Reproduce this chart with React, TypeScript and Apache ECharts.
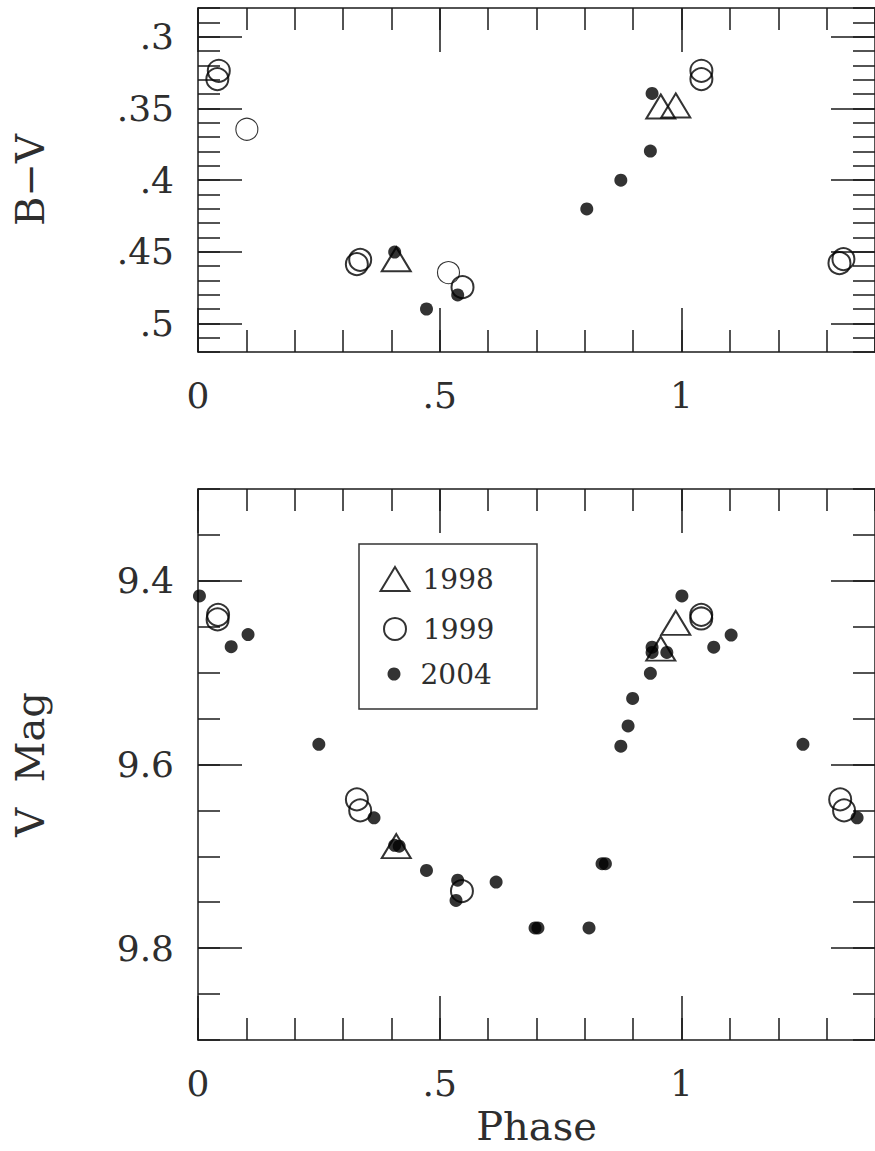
import React, { useEffect, useRef } from "react";
import * as echarts from "echarts";

// ---- Data ----
// Top panel: B-V colour vs phase
const bvPhase1998 = [0.41, 0.957, 0.988];
const bvValue1998 = [0.4553, 0.3487, 0.348];

const bvPhase1999 = [0.043, 0.04, 0.3285, 0.3354, 0.547, 1.041, 1.041, 1.3265, 1.3347];
const bvValue1999 = [0.3238, 0.3296, 0.4587, 0.4557, 0.4748, 0.3238, 0.3296, 0.458, 0.4552];

const bvPhase1999Thin = [0.101, 0.518];
const bvValue1999Thin = [0.3646, 0.4646];

const bvPhase2004 = [0.4067, 0.4725, 0.537, 0.804, 0.8744, 0.9355, 0.939];
const bvValue2004 = [0.4503, 0.49, 0.4802, 0.4202, 0.4001, 0.3798, 0.3396];

// Bottom panel: V magnitude vs phase
const vPhase1998 = [0.41, 0.957, 0.988];
const vValue1998 = [9.6888, 9.4738, 9.4458];

const vPhase1999 = [0.0415, 0.0405, 0.3286, 0.3354, 0.5458, 1.0407, 1.0407, 1.328, 1.336];
const vValue1999 = [9.437, 9.442, 9.638, 9.65, 9.7378, 9.437, 9.441, 9.638, 9.65];

const vPhase2004 = [
  0.003, 0.0686, 0.1035, 0.2499, 0.364, 0.4067, 0.4161, 0.4725, 0.537, 0.5336,
  0.6165, 0.697, 0.703, 0.8086, 0.8355, 0.8425, 0.8744, 0.8894, 0.8988, 0.9355,
  0.939, 0.939, 0.9695, 1.0007, 1.0665, 1.1025, 1.251, 1.363,
];
const vValue2004 = [
  9.4164, 9.4717, 9.4585, 9.578, 9.658, 9.688, 9.689, 9.7153, 9.726, 9.748,
  9.728, 9.778, 9.778, 9.778, 9.708, 9.708, 9.58, 9.558, 9.528, 9.5007,
  9.4723, 9.478, 9.478, 9.4164, 9.4723, 9.459, 9.578, 9.658,
];

// Axis ranges and ticks
const phaseMin = 0;
const phaseMax = 1.4;
const phaseMajorTicks = [0, 0.5, 1];
const phaseMinorStep = 0.1;

const bvMin = 0.28;
const bvMax = 0.52;
const bvMajorTicks = [0.3, 0.35, 0.4, 0.45, 0.5];
const bvMinorStep = 0.01;

const vMin = 9.3;
const vMax = 9.9;
const vMajorTicks = [9.4, 9.6, 9.8];
const vMinorStep = 0.05;

const seriesNames = ["1998", "1999", "2004"];

const FONT = '"DejaVu Serif", "Liberation Serif", serif';
const INK = "#1a1a1a";
const TEXT = "#2e2e2e";

const zip = (xs: number[], ys: number[]) => xs.map((x, i) => [x, ys[i]]);

const fmtPhase = (v: number) => (v === 0 ? "0" : String(v).replace(/^0\./, "."));
const fmtBV = (v: number) => String(v).replace(/^0\./, ".");
const fmtV = (v: number) => v.toFixed(1);

export default function App() {
  const ref = useRef<HTMLDivElement>(null);

  useEffect(() => {
    if (!ref.current) return;
    const chart = echarts.init(ref.current, undefined, { renderer: "svg" });

    const lineStyle = { color: INK, width: 1.5 };

    const xAxisFor = (gridIndex: number, position: string, major: boolean, withLabels: boolean, name?: string) => ({
      type: "value",
      gridIndex,
      position,
      min: phaseMin,
      max: phaseMax,
      ...(major ? {} : { interval: phaseMinorStep }),
      name: name || "",
      nameLocation: "middle",
      nameGap: 66,
      nameTextStyle: { fontFamily: FONT, fontSize: 40, color: TEXT },
      axisLine: { show: major, onZero: false, lineStyle },
      axisTick: {
        show: true,
        inside: true,
        length: major ? 44 : 22,
        lineStyle,
        ...(major ? { customValues: phaseMajorTicks } : {}),
      },
      axisLabel: major && withLabels
        ? { show: true, customValues: phaseMajorTicks, margin: 25, fontFamily: FONT, fontSize: 36, color: TEXT, formatter: fmtPhase }
        : { show: false },
      splitLine: { show: false },
    });

    const yAxisFor = (
      gridIndex: number,
      position: string,
      major: boolean,
      withLabels: boolean,
      min: number,
      max: number,
      majorTicks: number[],
      minorStep: number,
      fmt: (v: number) => string,
      name?: string
    ) => ({
      type: "value",
      gridIndex,
      position,
      inverse: true,
      min,
      max,
      ...(major ? {} : { interval: minorStep }),
      name: name || "",
      nameLocation: "middle",
      nameRotate: 90,
      nameGap: 148,
      nameTextStyle: { fontFamily: FONT, fontSize: 40, color: TEXT },
      axisLine: { show: major, onZero: false, lineStyle },
      axisTick: {
        show: true,
        inside: true,
        length: major ? 44 : 22,
        lineStyle,
        ...(major ? { customValues: majorTicks } : {}),
      },
      axisLabel: major && withLabels
        ? { show: true, customValues: majorTicks, margin: 24, fontFamily: FONT, fontSize: 36, color: TEXT, formatter: fmt }
        : { show: false },
      splitLine: { show: false },
    });

    const openStyle = { color: "rgba(0,0,0,0)", borderColor: "#000", borderWidth: 2 };
    const thinStyle = { color: "rgba(0,0,0,0)", borderColor: "#000", borderWidth: 1.1 };
    const dotStyle = { color: "#000" };

    const legendBase = {
      orient: "vertical",
      padding: 0,
      selectedMode: false,
      textStyle: { fontFamily: FONT, fontSize: 28, color: TEXT, lineHeight: 30 },
    };

    chart.setOption({
      animation: false,
      backgroundColor: "#fff",
      grid: [
        { left: 198, top: 8, width: 687, height: 344 },
        { left: 198, top: 489, width: 687, height: 551 },
      ],
      xAxis: [
        xAxisFor(0, "bottom", true, true),
        xAxisFor(0, "bottom", false, false),
        xAxisFor(0, "top", true, false),
        xAxisFor(0, "top", false, false),
        xAxisFor(1, "bottom", true, true, "Phase"),
        xAxisFor(1, "bottom", false, false),
        xAxisFor(1, "top", true, false),
        xAxisFor(1, "top", false, false),
      ],
      yAxis: [
        yAxisFor(0, "left", true, true, bvMin, bvMax, bvMajorTicks, bvMinorStep, fmtBV, "B\u2212V"),
        yAxisFor(0, "left", false, false, bvMin, bvMax, bvMajorTicks, bvMinorStep, fmtBV),
        yAxisFor(0, "right", true, false, bvMin, bvMax, bvMajorTicks, bvMinorStep, fmtBV),
        yAxisFor(0, "right", false, false, bvMin, bvMax, bvMajorTicks, bvMinorStep, fmtBV),
        yAxisFor(1, "left", true, true, vMin, vMax, vMajorTicks, vMinorStep, fmtV, "V  Mag"),
        yAxisFor(1, "left", false, false, vMin, vMax, vMajorTicks, vMinorStep, fmtV),
        yAxisFor(1, "right", true, false, vMin, vMax, vMajorTicks, vMinorStep, fmtV),
        yAxisFor(1, "right", false, false, vMin, vMax, vMajorTicks, vMinorStep, fmtV),
      ],
      legend: [
        { ...legendBase, data: [{ name: seriesNames[0], icon: "triangle" }], left: 379.5, top: 564, itemWidth: 29, itemHeight: 24,
          textStyle: { ...legendBase.textStyle, padding: [0, 0, 0, 8] } },
        { ...legendBase, data: [{ name: seriesNames[1], icon: "circle" }], left: 383, top: 614, itemWidth: 22, itemHeight: 22,
          textStyle: { ...legendBase.textStyle, padding: [0, 0, 0, 12] } },
        { ...legendBase, data: [{ name: seriesNames[2], icon: "circle" }], left: 387.5, top: 659, itemWidth: 13, itemHeight: 13,
          textStyle: { ...legendBase.textStyle, padding: [0, 0, 0, 15] } },
      ],
      graphic: [
        {
          type: "rect",
          shape: { x: 359, y: 544, width: 178, height: 165 },
          style: { fill: "none", stroke: "#333", lineWidth: 1.5 },
          z: 1,
        },
      ],
      series: [
        { name: seriesNames[0], type: "scatter", xAxisIndex: 0, yAxisIndex: 0, symbol: "triangle", symbolSize: [29, 24], itemStyle: openStyle, data: zip(bvPhase1998, bvValue1998) },
        { name: seriesNames[1], type: "scatter", xAxisIndex: 0, yAxisIndex: 0, symbol: "circle", symbolSize: 22, itemStyle: openStyle, data: zip(bvPhase1999, bvValue1999) },
        { name: seriesNames[1], type: "scatter", xAxisIndex: 0, yAxisIndex: 0, symbol: "circle", symbolSize: 22, itemStyle: thinStyle, data: zip(bvPhase1999Thin, bvValue1999Thin) },
        { name: seriesNames[2], type: "scatter", xAxisIndex: 0, yAxisIndex: 0, symbol: "circle", symbolSize: 13, itemStyle: dotStyle, data: zip(bvPhase2004, bvValue2004) },
        { name: seriesNames[0], type: "scatter", xAxisIndex: 4, yAxisIndex: 4, symbol: "triangle", symbolSize: [29, 24], itemStyle: openStyle, data: zip(vPhase1998, vValue1998) },
        { name: seriesNames[1], type: "scatter", xAxisIndex: 4, yAxisIndex: 4, symbol: "circle", symbolSize: 22, itemStyle: openStyle, data: zip(vPhase1999, vValue1999) },
        { name: seriesNames[2], type: "scatter", xAxisIndex: 4, yAxisIndex: 4, symbol: "circle", symbolSize: 13, itemStyle: dotStyle, data: zip(vPhase2004, vValue2004) },
      ],
    });

    return () => chart.dispose();
  }, []);

  return (
    <div
      ref={ref}
      style={{ position: "absolute", left: 0, top: 0, width: 875, height: 1151, background: "#fff" }}
    />
  );
}
